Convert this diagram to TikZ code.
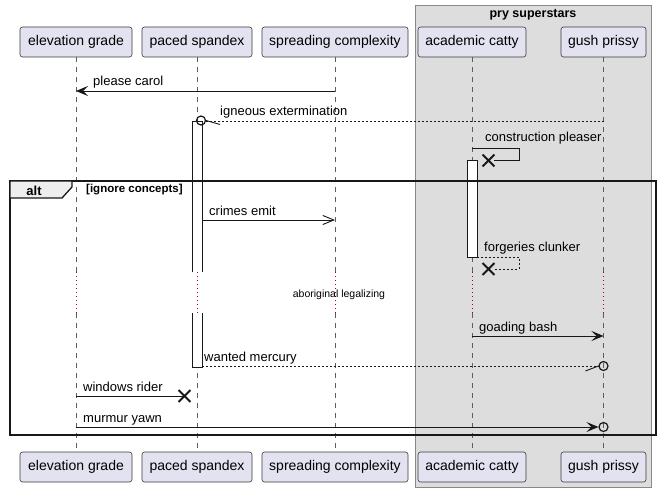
\documentclass[tikz,border=0pt]{standalone}
\usepackage{fontspec}
\setmainfont{Liberation Sans}
\usetikzlibrary{arrows.meta,shapes.misc}
\definecolor{partfill}{HTML}{E2E2F0}
\definecolor{grpfill}{HTML}{DDDDDD}
\definecolor{grpdraw}{HTML}{888888}
\definecolor{linec}{HTML}{181818}
\definecolor{delayc}{HTML}{A80036}
\definecolor{tabfill}{HTML}{EEEEEE}
\begin{document}
\begin{tikzpicture}[x=1pt,y=-1pt,
  part/.style={draw=linec!85, line width=0.6pt, fill=partfill, rounded corners=2.5pt,
    minimum height=30pt, inner sep=0pt, font=\fontsize{14}{16}\selectfont},
  lifeline/.style={draw=linec!70, line width=0.6pt, dash pattern=on 5pt off 5pt},
  delayline/.style={draw=delayc, line width=0.8pt, dash pattern=on 1pt off 3pt},
  msg/.style={draw=linec, line width=0.9pt},
  ret/.style={msg, dash pattern=on 2pt off 2pt},
  lbl/.style={font=\fontsize{13}{15}\selectfont, anchor=base west, inner sep=0pt},
  act/.style={draw=linec, fill=white, line width=0.9pt},
  filledhead/.style={-{Stealth[length=12pt,width=10pt,inset=5pt]}},
  openhead/.style={-{Straight Barb[length=11pt,width=9pt]}},
  circ/.style={circle, draw=linec, line width=1.2pt, minimum size=9pt, inner sep=0pt},
  xmark/.style={cross out, draw=linec, line width=1.8pt, minimum size=10pt, inner sep=0pt},
  altbox/.style={draw=linec, line width=1.6pt},
]
\useasboundingbox[fill=white] (0,0) rectangle (661,492);

% group box
\draw[draw=grpdraw, fill=grpfill, line width=0.8pt] (415,5) rectangle (651,487);
\node[font=\bfseries\fontsize{12.5}{14}\selectfont, anchor=base, inner sep=0pt] (grpT) at (533,18) {pry superstars};

% participants
\node[part, minimum width=112pt] (egT) at (76,42) {elevation grade};
\node[part, minimum width=110pt] (psT) at (197,42) {paced spandex};
\node[part, minimum width=146pt] (scT) at (335,42) {spreading complexity};
\node[part, minimum width=108pt] (acT) at (472,42) {academic catty};
\node[part, minimum width=85pt] (gpT) at (603.5,42) {gush prissy};
\node[part, minimum width=112pt] (egB) at (76,467) {elevation grade};
\node[part, minimum width=110pt] (psB) at (197,467) {paced spandex};
\node[part, minimum width=146pt] (scB) at (335,467) {spreading complexity};
\node[part, minimum width=108pt] (acB) at (472,467) {academic catty};
\node[part, minimum width=85pt] (gpB) at (603.5,467) {gush prissy};

% rows
\coordinate (dTop) at (0,272);
\coordinate (dBot) at (0,313);
\coordinate (y1) at (0,91);
\coordinate (y2) at (0,121);
\coordinate (y3) at (0,148);
\coordinate (y4) at (0,220);
\coordinate (y7) at (0,336);
\coordinate (y8) at (0,366);
\coordinate (y9) at (0,396);
\coordinate (y10) at (0,427);

% lifelines
\foreach \p in {eg,ps,sc,ac,gp} {
  \draw[lifeline] (\p T.south) -- (\p T.south |- dTop);
  \draw[delayline] (\p T.south |- dTop) -- (\p T.south |- dBot);
  \draw[lifeline] (\p T.south |- dBot) -- (\p B.north);
}

% activations
\draw[act] (192,272) -- (192,121) -- (202,121) -- (202,272);
\draw[act] (192,313) -- (192,367) -- (202,367) -- (202,313);
\draw[act] (467,160) rectangle (477,257);

% 1 please carol
\draw[msg, filledhead] (scT.south |- y1) -- (egT.south |- y1);
\node[lbl] (l1) at (93,86) {please carol};

% 2 igneous extermination
\node[circ] (c2) at (201,120.5) {};
\draw[ret] (gpT.south |- y2) -- (c2.east |- y2);
\draw[msg] (c2.east) -- ++(14,4);
\node[lbl] (l2) at (220,116) {igneous extermination};

% 3 construction pleaser
\node[xmark] (x3) at (488.5,160.5) {};
\draw[msg] (acT.south |- y3) -- (519,148) -- (519,160.5) -- (x3.east);
\node[lbl] (l3) at (485,142) {construction pleaser};

% 4 crimes emit
\coordinate (s4) at (202,220);
\draw[msg, openhead] (s4) -- (scT.south |- y4);
\node[lbl] (l4) at (209,215) {crimes emit};

% 5 forgeries clunker
\node[xmark] (x5) at (488.5,269) {};
\coordinate (s5) at (477,257);
\draw[ret] (s5) -- (519,257) -- (519,269) -- (x5.east);
\node[lbl] (l5) at (484,251.5) {forgeries clunker};

% delay
\node[font=\fontsize{10.5}{12}\selectfont, anchor=base, inner sep=0pt] (dl) at (339,297) {aboriginal legalizing};

% 7 goading bash
\draw[msg, filledhead] (acT.south |- y7) -- (gpT.south |- y7);
\node[lbl] (l7) at (479,331) {goading bash};

% 8 wanted mercury
\node[circ] (c8) at (gpT.south |- y8) {};
\coordinate (s8) at (202,366);
\draw[ret] (s8) -- (c8.west);
\draw[msg] (c8.west) -- ++(-13,5);
\node[lbl] (l8) at (204,361.5) {wanted mercury};

% 9 windows rider
\node[xmark] (x9) at (184.5,396) {};
\draw[msg] (egT.south |- y9) -- (x9.center);
\node[lbl] (l9) at (83,391.5) {windows rider};

% 10 murmur yawn
\node[circ] (c10) at (gpT.south |- y10) {};
\draw[msg, filledhead] (egT.south |- y10) -- (c10.west);
\node[lbl] (l10) at (83,422) {murmur yawn};

% alt frame
\draw[altbox] (10,181) rectangle (656,435);
\draw[line width=1.3pt, draw=linec, fill=tabfill] (10,181) -- (72,181) -- (72,187) -- (62,198) -- (10,198) -- cycle;
\node[font=\bfseries\fontsize{13}{15}\selectfont, anchor=base, inner sep=0pt] (altT) at (34,195) {alt};
\node[font=\bfseries\fontsize{11.5}{13}\selectfont, anchor=base west, inner sep=0pt] (guard) at (86,192.5) {[ignore concepts]};
\end{tikzpicture}
\end{document}
